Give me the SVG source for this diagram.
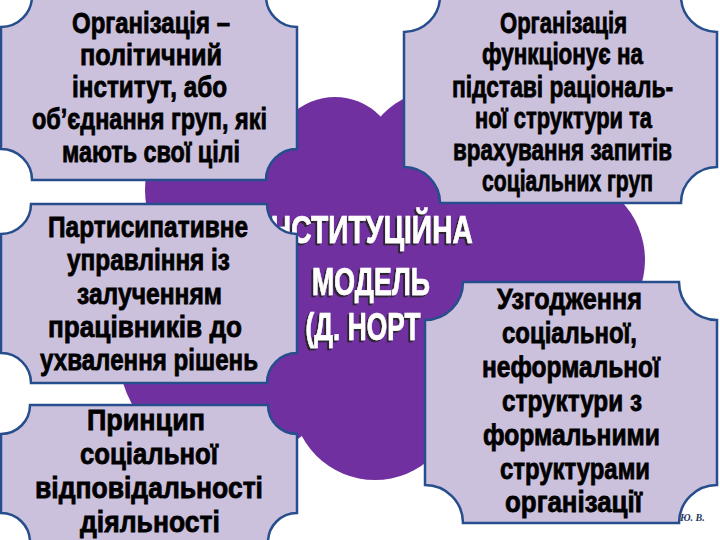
<svg xmlns="http://www.w3.org/2000/svg" width="720" height="540" viewBox="0 0 720 540">
  <style>
    .cloud { fill: #7030A0; }
    .plaque { fill: #CCC1DC; stroke: #264E8C; stroke-width: 2.5; }
    .t { font-family: "Liberation Sans Narrow", "Liberation Sans", Arial, sans-serif; font-weight: bold; font-size: 30px; fill: #000; stroke: #000; stroke-width: 0.8; text-anchor: middle; }
    .c { font-family: "Liberation Sans Narrow", "Liberation Sans", Arial, sans-serif; font-weight: bold; font-size: 38px; fill: #FFFFFF; stroke: #FFFFFF; stroke-width: 0.6; text-anchor: middle; filter: url(#sh); }
    .sig { font-family: "Liberation Serif", "Times New Roman", serif; font-style: italic; font-weight: bold; font-size: 10px; fill: #1F3864; }
  </style>
  <defs>
    <filter id="sh" x="-10%" y="-20%" width="120%" height="150%">
      <feDropShadow dx="-2" dy="2" stdDeviation="0.6" flood-color="#202020" flood-opacity="0.9"/>
    </filter>
  </defs>

  <rect x="0" y="0" width="720" height="540" fill="#FFFFFF"/>

  <g id="cloud" class="cloud">
    <circle cx="380" cy="280" r="150"/>
    <circle cx="335" cy="160" r="63"/>
    <circle cx="440" cy="170" r="80"/>
    <circle cx="240" cy="190" r="95"/>
    <circle cx="230" cy="350" r="112"/>
    <circle cx="375" cy="397" r="83"/>
    <circle cx="560" cy="260" r="85"/>
  </g>

  <g id="center-title">
    <text class="c" x="368" y="243" textLength="210" lengthAdjust="spacingAndGlyphs">ІНСТИТУЦІЙНА</text>
    <text class="c" x="371" y="295" textLength="118" lengthAdjust="spacingAndGlyphs">МОДЕЛЬ</text>
    <text class="c" x="363" y="340" textLength="115" lengthAdjust="spacingAndGlyphs">(Д. НОРТ</text>
  </g>

  <g id="connectors"></g>

  <g id="node-political">
    <path class="plaque" d="M32,-4 H266 A31,31 0 0 0 297,27 V149 A31,31 0 0 0 266,180 H32 A31,31 0 0 0 1,149 V27 A31,31 0 0 0 32,-4 Z"/>
    <text class="t" x="151" y="33" textLength="158" lengthAdjust="spacingAndGlyphs">Організація –</text>
    <text class="t" x="151" y="65" textLength="142" lengthAdjust="spacingAndGlyphs">політичний</text>
    <text class="t" x="149.5" y="97" textLength="155" lengthAdjust="spacingAndGlyphs">інститут, або</text>
    <text class="t" x="149.5" y="129" textLength="235" lengthAdjust="spacingAndGlyphs">об’єднання груп, які</text>
    <text class="t" x="151" y="162" textLength="178" lengthAdjust="spacingAndGlyphs">мають свої цілі</text>
  </g>

  <g id="node-rational">
    <path class="plaque" d="M440,-4 H681 A36,36 0 0 0 717,32 V167 A36,36 0 0 0 681,203 H440 A36,36 0 0 0 404,167 V32 A36,36 0 0 0 440,-4 Z"/>
    <text class="t" x="563.5" y="33" textLength="127" lengthAdjust="spacingAndGlyphs">Організація</text>
    <text class="t" x="562.5" y="64" textLength="161" lengthAdjust="spacingAndGlyphs">функціонує на</text>
    <text class="t" x="562.5" y="97" textLength="221" lengthAdjust="spacingAndGlyphs">підставі раціональ-</text>
    <text class="t" x="563.5" y="128" textLength="177" lengthAdjust="spacingAndGlyphs">ної структури та</text>
    <text class="t" x="562.5" y="160" textLength="219" lengthAdjust="spacingAndGlyphs">врахування запитів</text>
    <text class="t" x="567.5" y="191" textLength="171" lengthAdjust="spacingAndGlyphs">соціальних груп</text>
  </g>

  <g id="node-participative">
    <path class="plaque" d="M31,204 H267 A30,30 0 0 0 297,234 V353 A30,30 0 0 0 267,383 H31 A30,30 0 0 0 1,353 V234 A30,30 0 0 0 31,204 Z"/>
    <text class="t" x="148" y="237" textLength="200" lengthAdjust="spacingAndGlyphs">Партисипативне</text>
    <text class="t" x="148.5" y="270" textLength="163" lengthAdjust="spacingAndGlyphs">управління із</text>
    <text class="t" x="149.5" y="304" textLength="145" lengthAdjust="spacingAndGlyphs">залученням</text>
    <text class="t" x="145" y="337" textLength="194" lengthAdjust="spacingAndGlyphs">працівників до</text>
    <text class="t" x="149" y="370" textLength="218" lengthAdjust="spacingAndGlyphs">ухвалення рішень</text>
  </g>

  <g id="node-responsibility">
    <path class="plaque" d="M30,405 H268 A29,29 0 0 0 297,434 V513 A29,29 0 0 0 268,542 H30 A29,29 0 0 0 1,513 V434 A29,29 0 0 0 30,405 Z"/>
    <text class="t" x="146" y="430" textLength="118" lengthAdjust="spacingAndGlyphs">Принцип</text>
    <text class="t" x="149" y="464" textLength="138" lengthAdjust="spacingAndGlyphs">соціальної</text>
    <text class="t" x="149" y="498" textLength="228" lengthAdjust="spacingAndGlyphs">відповідальності</text>
    <text class="t" x="150" y="532" textLength="140" lengthAdjust="spacingAndGlyphs">діяльності</text>
  </g>

  <g id="node-coordination">
    <path class="plaque" d="M463,282 H679 A38,38 0 0 0 717,320 V485 A38,38 0 0 0 679,523 H463 A38,38 0 0 0 425,485 V320 A38,38 0 0 0 463,282 Z"/>
    <text class="t" x="569.5" y="309" textLength="145" lengthAdjust="spacingAndGlyphs">Узгодження</text>
    <text class="t" x="569.5" y="343" textLength="135" lengthAdjust="spacingAndGlyphs">соціальної,</text>
    <text class="t" x="571" y="377" textLength="178" lengthAdjust="spacingAndGlyphs">неформальної</text>
    <text class="t" x="572" y="411" textLength="140" lengthAdjust="spacingAndGlyphs">структури з</text>
    <text class="t" x="571.5" y="445" textLength="177" lengthAdjust="spacingAndGlyphs">формальними</text>
    <text class="t" x="575" y="479" textLength="150" lengthAdjust="spacingAndGlyphs">структурами</text>
    <text class="t" x="573.5" y="512" textLength="137" lengthAdjust="spacingAndGlyphs">організації</text>
  </g>

  <g id="signature">
    <text class="sig" x="680" y="521">Ю. В.</text>
  </g>
</svg>
